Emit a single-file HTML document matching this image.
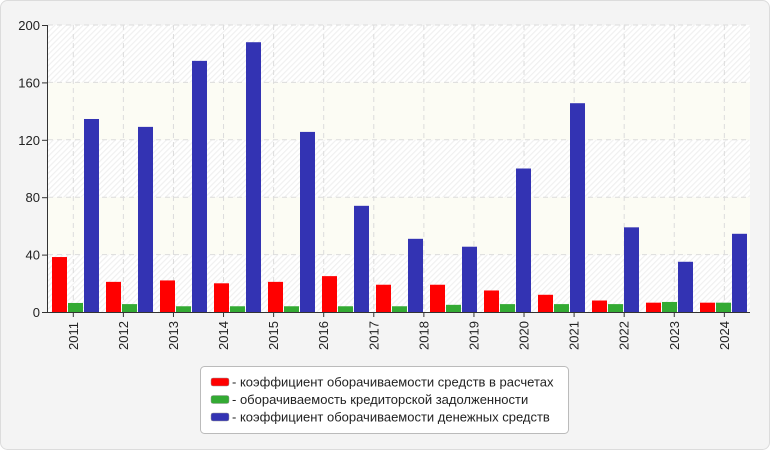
<!DOCTYPE html>
<html><head><meta charset="utf-8"><style>
body{margin:0;background:#fff;}
svg{display:block;font-family:"Liberation Sans",sans-serif;}
</style></head><body>
<svg id="c" width="770" height="450" xmlns="http://www.w3.org/2000/svg">
<defs>
<pattern id="h" width="4" height="4" patternUnits="userSpaceOnUse" patternTransform="rotate(45)">
<rect width="4" height="4" fill="#ffffff"/><rect width="1.2" height="4" fill="#f0f0f0"/>
</pattern>
</defs>
<rect x="0.5" y="0.5" width="769" height="449" rx="7" fill="#f4f4f4" stroke="#dcdcdc"/>
<g id="g"></g>
</svg>
<script>
var ns="http://www.w3.org/2000/svg",g=document.getElementById("g");
function el(t,a,txt){var e=document.createElementNS(ns,t);for(var k in a)e.setAttribute(k,a[k]);if(txt!=null)e.textContent=txt;g.appendChild(e);return e;}
var L=48,R=750,T=25,B=312,s=(B-T)/200;
function Y(v){return B-v*s;}
for(var i=0;i<5;i++){el("rect",{x:L,y:Y((i+1)*40),width:R-L,height:40*s,fill:(i%2==0)?"url(#h)":"#fcfcf4"});}
for(var i=1;i<=5;i++){el("line",{x1:L,x2:R,y1:Y(i*40),y2:Y(i*40),stroke:"#dcdcdc","stroke-dasharray":"5,4"});}
var ticks=[];for(var i=0;i<14;i++)ticks.push(73.3+50.08*i);
ticks.forEach(function(x){el("line",{x1:x,x2:x,y1:T,y2:B,stroke:"#dcdcdc","stroke-dasharray":"5,4"});});
var red=[38.3,21,22,20,21,25,19,19,15,12,8,6.5,6.5];
var gr=[6.3,5.5,4,4,4,4,4,5,5.5,5.5,5.5,7,6.5];
var bl=[134.5,129,175,188,125.5,74,51,45.5,100,145.5,59,35,54.5];
for(var i=0;i<13;i++){var x=52+54*i;
[[red,"#ff0000",0],[gr,"#33aa33",16],[bl,"#3333b3",32]].forEach(function(d){var v=d[0][i];el("rect",{x:x+d[2],y:Y(v),width:15,height:v*s,fill:d[1]});});}
el("line",{x1:47.5,x2:47.5,y1:T,y2:B+0.5,stroke:"#333"});
el("line",{x1:47,x2:R,y1:B+0.5,y2:B+0.5,stroke:"#333"});
for(var i=0;i<=5;i++){var y=Y(i*40);el("line",{x1:42,x2:47.5,y1:y+0.5,y2:y+0.5,stroke:"#333"});
el("text",{x:40,y:y+5,"text-anchor":"end","font-size":"13",fill:"#222"},String(i*40));}
ticks.forEach(function(x,i){el("line",{x1:x,x2:x,y1:B,y2:B+5,stroke:"#333"});
el("text",{x:0,y:0,"text-anchor":"start","font-size":"13",fill:"#222",transform:"translate("+(x+4.5)+",350) rotate(-90)"},String(2011+i));});
el("rect",{x:200.5,y:366.5,width:368,height:67,rx:4,fill:"#fff",stroke:"#bbb"});
var lg=[["#ff0000","- коэффициент оборачиваемости средств в расчетах"],["#33aa33","- оборачиваемость кредиторской задолженности"],["#3333b3","- коэффициент оборачиваемости денежных средств"]];
lg.forEach(function(d,i){var y=382+i*17.5;el("rect",{x:211,y:y-4,width:18,height:8,rx:2,fill:d[0],stroke:"#999","stroke-width":"0.5"});
el("text",{x:232,y:y+4.5,"font-size":"13",fill:"#222"},d[1]);});
</script>
</body></html>
